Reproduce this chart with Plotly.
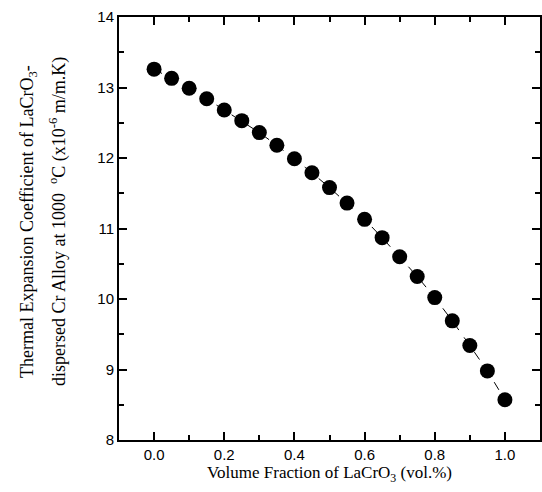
import plotly.graph_objects as go

fraction = [0.0, 0.05, 0.10, 0.15, 0.20, 0.25, 0.30, 0.35, 0.40, 0.45, 0.50,
            0.55, 0.60, 0.65, 0.70, 0.75, 0.80, 0.85, 0.90, 0.95, 1.0]
tec = [13.26, 13.13, 12.99, 12.84, 12.68, 12.53, 12.36, 12.18, 11.99, 11.79, 11.58,
       11.36, 11.13, 10.87, 10.60, 10.32, 10.02, 9.69, 9.34, 8.98, 8.57]
x_ticks = [0.0, 0.2, 0.4, 0.6, 0.8, 1.0]
x_ticklabels = ["0.0", "0.2", "0.4", "0.6", "0.8", "1.0"]
y_ticks = [8, 9, 10, 11, 12, 13, 14]
y_title_lines = ["Thermal Expansion Coefficient of LaCrO<sub>3</sub>-",
                 "dispersed Cr Alloy at 1000  <sup>o</sup>C (x10<sup>-6</sup> m/m.K)"]
x_title = "Volume Fraction of LaCrO<sub>3</sub> (vol.%)"

W, H = 542, 492
L, R, T, B = 119, 2, 17, 52
pw, ph = W - L - R, H - T - B

fig = go.Figure()
fig.add_trace(go.Scatter(
    x=fraction, y=tec, mode="lines+markers",
    line=dict(color="black", width=1, dash="dash"),
    marker=dict(color="black", size=15),
    showlegend=False,
))
# invisible trace to activate mirrored axes (top/right ticks)
fig.add_trace(go.Scatter(x=fraction, y=tec, xaxis="x2", yaxis="y2", mode="markers",
                         marker=dict(opacity=0), hoverinfo="skip", showlegend=False))

serif = "Liberation Serif, Times New Roman"
tickfont = dict(family="Liberation Sans, Arial", size=15, color="black")
common = dict(showgrid=False, zeroline=False, showline=True, linecolor="black", linewidth=2,
              ticks="inside", ticklen=8, tickwidth=1.5, tickcolor="black")

xminor = dict(ticks="inside", ticklen=5, tickwidth=1.5, dtick=0.1, tick0=0, tickcolor="black")
yminor = dict(ticks="inside", ticklen=5, tickwidth=1.5, dtick=0.5, tick0=8, tickcolor="black")

fig.update_layout(
    width=W, height=H,
    margin=dict(l=L, r=R, t=T, b=B),
    paper_bgcolor="white", plot_bgcolor="white",
    xaxis=dict(range=[-0.1, 1.1], tickvals=x_ticks, ticktext=x_ticklabels, tickfont=tickfont,
               minor=xminor,
               title=dict(text=x_title, font=dict(family=serif, size=17, color="black"), standoff=3),
               **common),
    yaxis=dict(range=[8, 14], tickvals=y_ticks, tickfont=tickfont, minor=yminor, **common),
    xaxis2=dict(range=[-0.1, 1.1], tickvals=x_ticks, overlaying="x", side="top",
                showticklabels=False, minor=xminor, **common),
    yaxis2=dict(range=[8, 14], tickvals=y_ticks, overlaying="y", side="right",
                showticklabels=False, minor=yminor, **common),
)

for text, px in zip(y_title_lines, [28, 58]):
    fig.add_annotation(text=text, textangle=-90, xref="paper", yref="paper",
                       x=(px - L) / pw, y=(H - B - 222) / ph, xanchor="center", yanchor="middle",
                       showarrow=False, font=dict(family=serif, size=18, color="black"))

fig.write_html("out.html")
